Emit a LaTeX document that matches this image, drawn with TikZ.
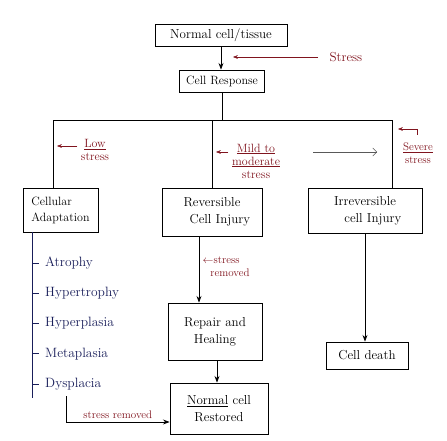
\documentclass[tikz,border=0pt]{standalone}
\usepackage{xcolor}
\usetikzlibrary{arrows.meta,positioning,calc}
\definecolor{stressred}{RGB}{128,20,30}
\definecolor{listblue}{RGB}{25,30,90}

\begin{document}
\begin{tikzpicture}[x=1pt,y=-1pt,>=Stealth,
  box/.style={draw,thick,align=center,inner sep=2pt,font=\fontsize{13}{17}\selectfont},
  note/.style={text=stressred,font=\fontsize{12}{13}\selectfont,align=center},
  kind/.style={text=listblue,font=\fontsize{13.5}{15}\selectfont,anchor=west,inner sep=1pt}]
  \useasboundingbox (0,0) rectangle (447,441);
  % top of the chart
  \node[box,minimum width=132,minimum height=22](nc) at (221,35){Normal cell/tissue};
  \node[box,minimum width=85,minimum height=22,inner sep=1pt,font=\fontsize{12}{14}\selectfont](cr) at (222,81){Cell Response};
  \draw[->,thick] (nc.south) -- (nc.south |- cr.north);
  \node[note,anchor=west,font=\fontsize{13}{14}\selectfont](st) at (326,57){Stress};
  \coordinate (sttip) at (233,57);
  \draw[->,stressred] (st.west) ++(-8pt,0) -- (sttip);
  % three kinds of response
  \node[box,align=left,minimum width=75,minimum height=44,inner sep=1pt,font=\fontsize{12}{16}\selectfont](ca) at (60.5,210){Cellular\\Adaptation};
  \node[box,minimum width=100,minimum height=48](ri) at (212,212){Reversible\\\hspace*{1.2em}Cell Injury};
  \node[box,minimum width=114,minimum height=45](ir) at (365,210.5){Irreversible\\\hspace*{1.2em}cell Injury};
  \coordinate (bl) at (53,120);
  \coordinate (br) at (392,120);
  \draw[thick] (bl |- ca.north) -- (bl) -- (br) -- (br |- ir.north);
  \draw[thick] (cr.south) -- (cr.south |- bl);
  \draw[thick] (ri.north) -- (ri.north |- bl);
  % stress labels on the branches
  \node[note](ls) at (95,150){\underline{Low}\\stress};
  \coordinate (lstip) at (57,146);
  \draw[->,stressred] (lstip -| ls.west) -- (lstip);
  \node[note](ms) at (256,161){\underline{Mild to}\\\underline{moderate}\\stress};
  \coordinate (mstip) at (216,152);
  \draw[->,stressred] (mstip -| ms.west) -- (mstip);
  \coordinate (ga) at (313,152);
  \coordinate (gb) at (377,152);
  \draw[-{Straight Barb[length=4pt]},gray!70!black] (ga) -- (gb);
  \node[note,font=\fontsize{11}{13}\selectfont](ss) at (418,153){\underline{Severe}\\stress};
  \coordinate (sva) at (417,135);
  \coordinate (svb) at (398,129);
  \draw[->,stressred] (sva) |- (svb);
  % outcomes
  \node[box,minimum width=94,minimum height=57](rh) at (215,331.5){Repair and\\Healing};
  \node[box,minimum width=98,minimum height=51](nr) at (219,408.5){\underline{Normal} cell\\Restored};
  \node[box,minimum width=82,minimum height=27](cd) at (367,355.5){Cell death};
  \draw[->,thick] ([xshift=-13pt]ri.south) -- ([xshift=-13pt]ri.south |- rh.north)
    node[note,pos=0.45,right,align=left,font=\fontsize{11}{13}\selectfont]{$\leftarrow$stress\\\hspace*{0.7em}removed};
  \draw[->,thick] ([xshift=2pt]rh.south) -- ([xshift=2pt]rh.south |- nr.north);
  \draw[->,thick] (ir.south) -- (ir.south |- cd.north);
  % adaptations
  \coordinate (le) at (32,398);
  \draw[listblue,thick] (le |- ca.south) -- (le);
  \foreach \kname [count=\i] in {Atrophy,Hypertrophy,Hyperplasia,Metaplasia,Dysplacia}{
    \node[kind](k\i) at (44,{263+30.25*(\i-1)}){\kname};
    \draw[listblue,thick] (k\i.west -| le) -- ++(7pt,0);
  }
  \coordinate (sr) at (66,396);
  \draw[->,thick] (sr) |- ([yshift=-13.5pt]nr.west)
    node[note,pos=0.75,above,font=\fontsize{11}{13}\selectfont]{stress removed};
\end{tikzpicture}
\end{document}
